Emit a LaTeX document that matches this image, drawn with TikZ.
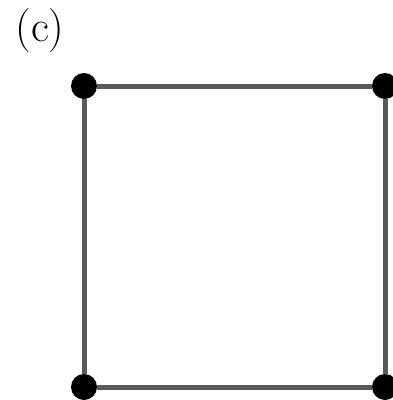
\documentclass[tikz,border=0pt]{standalone}
\usepackage{tikz}
\usetikzlibrary{positioning}

\begin{document}
\begin{tikzpicture}[
  x=1pt, y=-1pt,
  vert/.style={circle, fill=black, inner sep=0pt, minimum size=26pt},
  edge/.style={draw=black!65, line width=5pt},
  lbl/.style={font=\fontsize{44}{44}\selectfont, inner sep=0pt}
]
\useasboundingbox (0,0) rectangle (392,400);
\node[lbl] (tag) at (40,31) {(c)};
\node[vert] (tl) at (84,86) {};
\node[vert] (tr) at (385,86) {};
\node[vert] (bl) at (84,387) {};
\node[vert] (br) at (385,387) {};

\draw[edge] (tl) -- (tr);
\draw[edge] (tr) -- (br);
\draw[edge] (br) -- (bl);
\draw[edge] (bl) -- (tl);
\end{tikzpicture}
\end{document}
